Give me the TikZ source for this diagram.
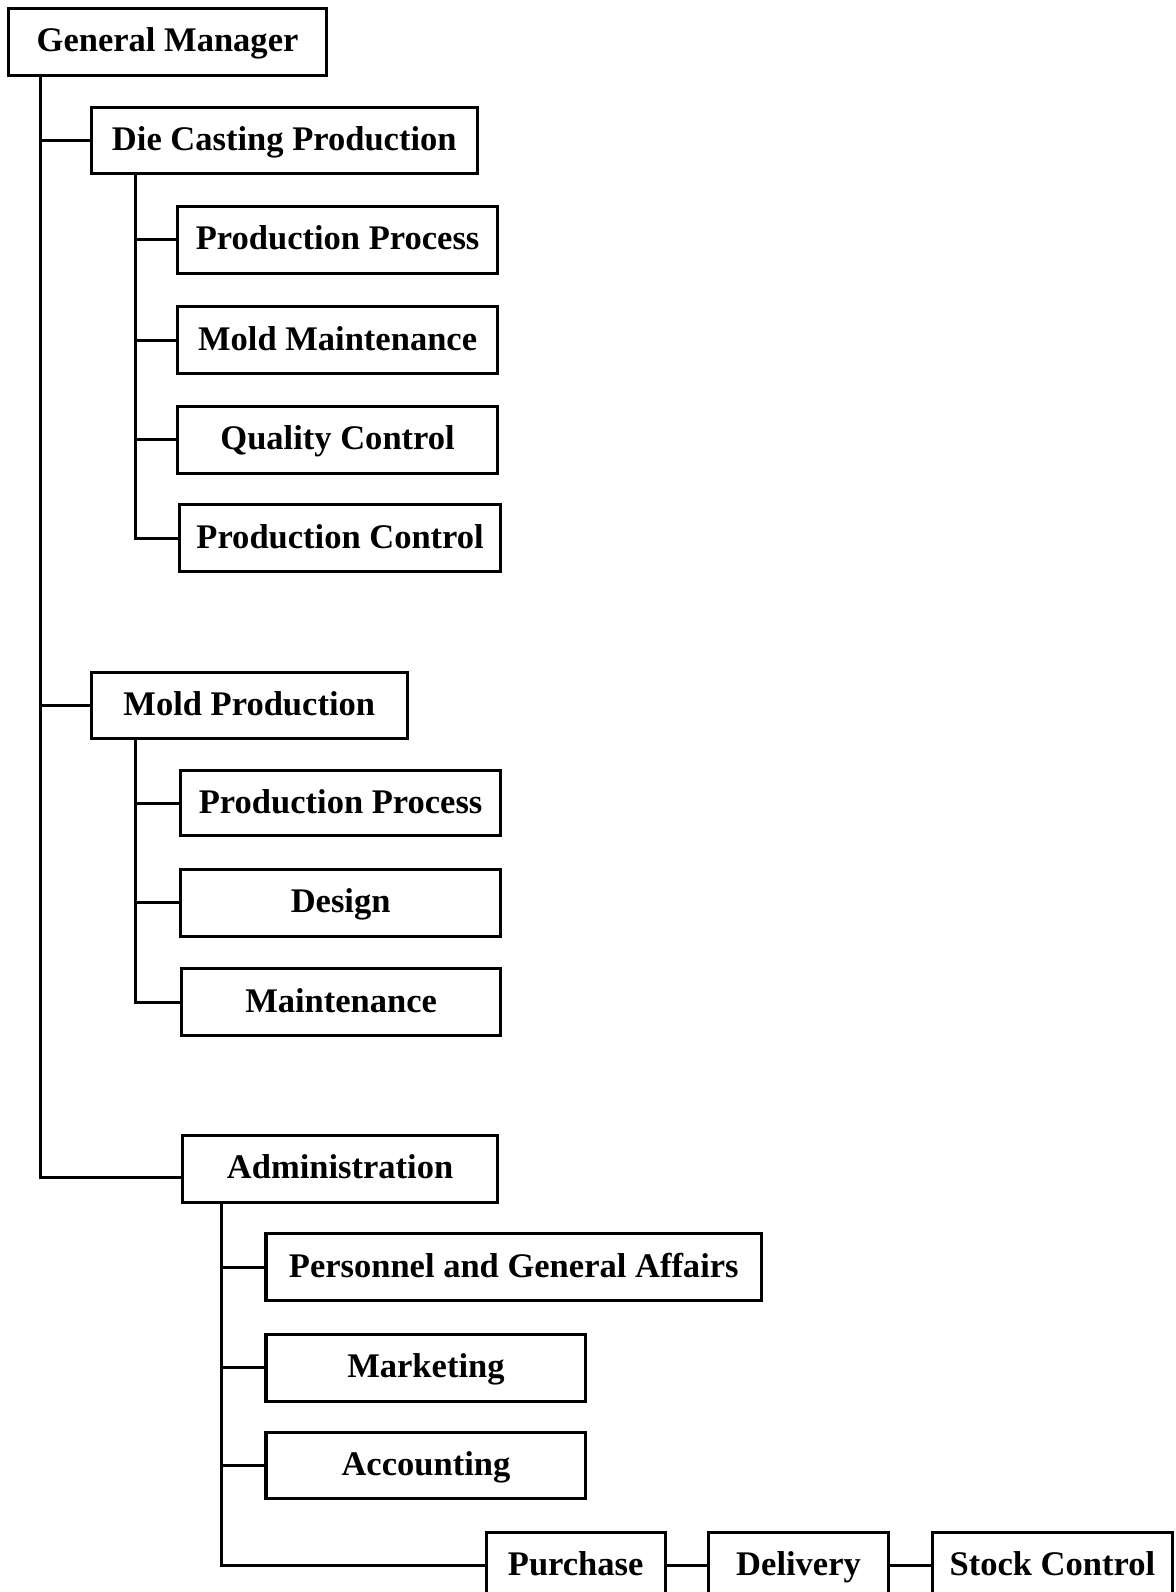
\documentclass[tikz,border=0pt]{standalone}
\usepackage{fontspec}
\setmainfont{Liberation Serif}
\begin{document}
\begin{tikzpicture}[x=0.5pt,y=-0.5pt,
  box/.style={draw,line width=1.5pt,inner sep=0pt,minimum height=33pt,text height=11pt,text depth=1pt,font=\bfseries\fontsize{17}{20}\selectfont},
  link/.style={line width=1.5pt}]
\useasboundingbox (0,0) rectangle (1158,1568);
\coordinate (tA) at (40,0);
\coordinate (tB) at (133,0);
\coordinate (tC) at (218,0);
% nodes
\node[box,minimum width=157pt] (gm) at (165,41) {General Manager};
\node[box,minimum width=190pt,minimum height=32.5pt] (dcp) at (280,138.5) {Die Casting Production};
\node[box,minimum width=157.5pt] (pp1) at (332.5,236) {Production Process};
\node[box,minimum width=157.5pt] (mm) at (332.5,335) {Mold Maintenance};
\node[box,minimum width=157.5pt] (qc) at (332.5,433) {Quality Control};
\node[box,minimum width=158pt] (pc) at (335,530) {Production Control};
\node[box,minimum width=155.5pt,minimum height=32.5pt] (mp) at (245.5,694.5) {Mold Production};
\node[box,minimum width=157.5pt,minimum height=32pt] (pp2) at (335.5,791) {Production Process};
\node[box,minimum width=157.5pt] (des) at (335.5,889) {Design};
\node[box,minimum width=157pt] (mnt) at (336,987) {Maintenance};
\node[box,minimum width=155pt] (adm) at (335,1151) {Administration};
\node[box,minimum width=244pt] (pga) at (506,1248) {Personnel and General Affairs};
\node[box,minimum width=157.5pt] (mkt) at (419.5,1347) {Marketing};
\node[box,minimum width=157.5pt,minimum height=32.5pt] (acc) at (419.5,1443.5) {Accounting};
\node[box,minimum width=88pt] (pur) at (567,1542) {Purchase};
\node[box,minimum width=88.5pt] (del) at (786.5,1542) {Delivery};
\node[box,minimum width=118.5pt] (stk) at (1036.5,1542) {Stock Control};
% connectors
\draw[link] (gm.south -| tA) |- ([yshift=-4.5pt]adm.west);
\draw[link] (tA |- dcp.west) -- (dcp.west);
\draw[link] (tA |- mp.west) -- (mp.west);
\draw[link] (dcp.south -| tB) |- (pc.west);
\draw[link] (tB |- pp1.west) -- (pp1.west);
\draw[link] (tB |- mm.west) -- (mm.west);
\draw[link] (tB |- qc.west) -- (qc.west);
\draw[link] (mp.south -| tB) |- (mnt.west);
\draw[link] (tB |- pp2.west) -- (pp2.west);
\draw[link] (tB |- des.west) -- (des.west);
\draw[link] (adm.south -| tC) |- (pur.west);
\draw[link] (tC |- pga.west) -- (pga.west);
\draw[link] (tC |- mkt.west) -- (mkt.west);
\draw[link] (tC |- acc.west) -- (acc.west);
\draw[link] (pur.east) -- (del.west);
\draw[link] (del.east) -- (stk.west);
\end{tikzpicture}
\end{document}
